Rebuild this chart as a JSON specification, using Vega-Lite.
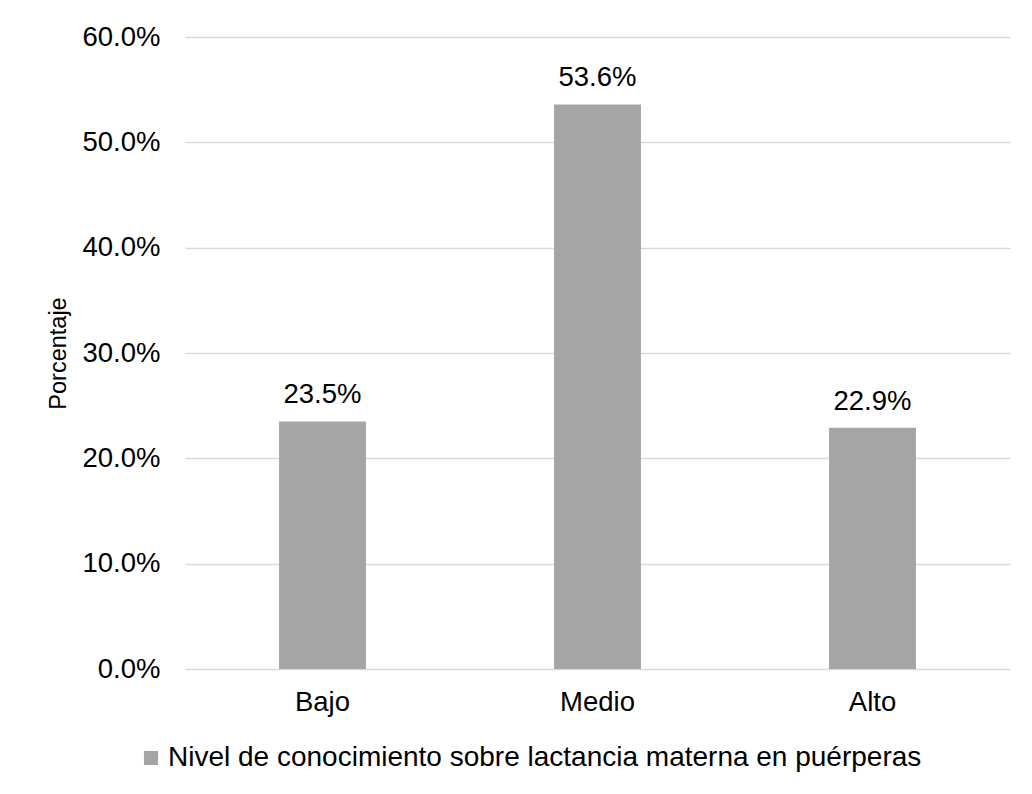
{
  "$schema": "https://vega.github.io/schema/vega-lite/v6.json",
  "autosize": {"type": "none"},
  "width": 825,
  "height": 632,
  "padding": {"left": 185, "top": 37, "right": 22, "bottom": 125},
  "background": "white",
  "config": {
    "font": "Liberation Sans",
    "view": {"stroke": null},
    "axis": {"labelFont": "Liberation Sans", "titleFont": "Liberation Sans", "labelColor": "#000000", "titleColor": "#000000"}
  },
  "data": {
    "values": [
      {"nivel": "Bajo", "porcentaje": 0.235, "serie": "Nivel de conocimiento sobre lactancia materna en puérperas"},
      {"nivel": "Medio", "porcentaje": 0.536, "serie": "Nivel de conocimiento sobre lactancia materna en puérperas"},
      {"nivel": "Alto", "porcentaje": 0.229, "serie": "Nivel de conocimiento sobre lactancia materna en puérperas"}
    ]
  },
  "encoding": {
    "x": {
      "field": "nivel",
      "type": "nominal",
      "sort": ["Bajo", "Medio", "Alto"],
      "scale": {"paddingInner": 0.684, "paddingOuter": 0.342},
      "axis": {"title": null, "labelAngle": 0, "labelFontSize": 27.5, "labelPadding": 19, "ticks": false, "domain": false, "grid": false}
    },
    "y": {
      "field": "porcentaje",
      "type": "quantitative",
      "scale": {"domain": [0, 0.6], "nice": false},
      "axis": {
        "title": "Porcentaje",
        "titleFontSize": 23.5,
        "titleFontWeight": "normal",
        "titlePadding": 12,
        "format": ".1%",
        "values": [0, 0.1, 0.2, 0.3, 0.4, 0.5, 0.6],
        "labelFontSize": 27.5,
        "labelPadding": 25,
        "ticks": false,
        "domain": false,
        "grid": true,
        "gridColor": "#d9d9d9",
        "gridWidth": 1.5
      }
    }
  },
  "layer": [
    {
      "mark": {"type": "bar"},
      "encoding": {
        "color": {
          "field": "serie",
          "type": "nominal",
          "scale": {"range": ["#a5a5a5"]},
          "legend": {
            "title": null,
            "orient": "none",
            "legendX": -48,
            "legendY": 707,
            "symbolType": "square",
            "symbolSize": 200,
            "symbolStrokeWidth": 0,
            "labelFontSize": 28,
            "labelColor": "#000000",
            "labelOffset": 3,
            "labelLimit": 1000
          }
        }
      }
    },
    {
      "mark": {"type": "text", "baseline": "alphabetic", "dy": -18, "fontSize": 27.5, "color": "#000000"},
      "encoding": {
        "text": {"field": "porcentaje", "type": "quantitative", "format": ".1%"}
      }
    }
  ]
}
